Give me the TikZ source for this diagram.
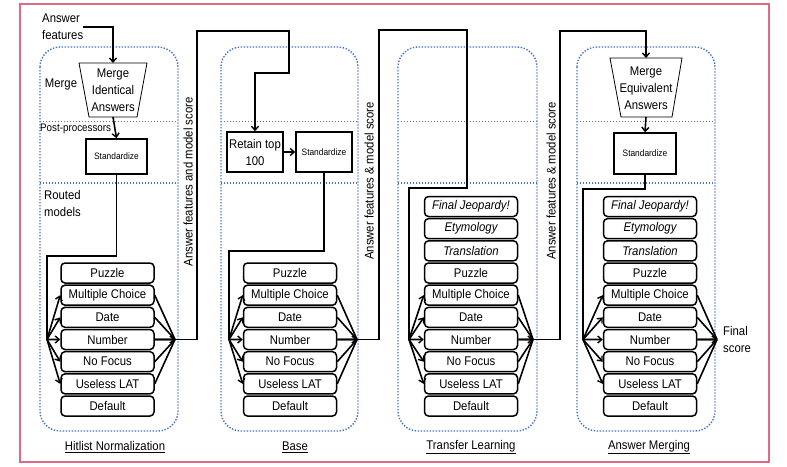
\documentclass[tikz,border=0pt]{standalone}
\usepackage{fontspec}
\setmainfont[FakeStretch=0.9]{Liberation Sans}
\usetikzlibrary{arrows.meta}
\definecolor{framepink}{RGB}{226,104,136}
\definecolor{dotblue}{RGB}{70,114,200}
\newcommand\fsm{\fontsize{12.6}{17}\selectfont}
\newcommand\fss{\fontsize{9.3}{10}\selectfont}
\newcommand\fspp{\fontsize{10.9}{12}\selectfont}
\tikzset{
 conn/.style={line width=1.6pt, line join=miter},
 arr/.style={conn, -{Straight Barb[length=4pt,width=7pt,line width=1.4pt]}},
 colbox/.style={draw=dotblue, line width=1.4pt, dash pattern=on 1.4pt off 1.6pt, rounded corners=20pt},
 divline/.style={draw=dotblue, line width=1.4pt, dash pattern=on 1.4pt off 1.6pt},
 model/.style={draw, line width=1.5pt, rounded corners=4pt, minimum width=93pt, minimum height=20pt, inner sep=0pt, font=\fsm},
 stdbox/.style={draw, line width=1.5pt, inner sep=0pt, font=\fss, align=center},
 lbl/.style={inner sep=0pt, font=\fsm, align=left},
 trap/.style={draw, line width=0.8pt},
}
\begin{document}
\begin{tikzpicture}[x=1pt,y=-1pt]
\useasboundingbox (0,0) rectangle (787,466);
% frame
\draw[framepink, line width=1.2pt] (20,4) rectangle (769,462);
% column boxes
\foreach \xa/\xb in {40/178,221/358,398/537,577/715}{
  \draw[colbox] (\xa,47) rectangle (\xb,431);
  \draw[divline] (\xa,121.5) -- (\xb,121.5);
  \draw[divline] (\xa,183) -- (\xb,183);
}
% bottom labels
\node[lbl] (t1) at (115,447) {\underline{Hitlist Normalization}};
\node[lbl] (t2) at (295,447) {\underline{Base}};
\node[lbl] (t3) at (471,447) {\underline{Transfer Learning}};
\node[lbl] (t4) at (649,447) {\underline{Answer Merging}};

% ---------- column 1 ----------
\node[lbl, anchor=west] (af) at (42,27) {Answer\\features};
\coordinate (tr1a) at (79,63); \coordinate (tr1b) at (147,63);
\coordinate (tr1c) at (137,117); \coordinate (tr1d) at (89,117);
\draw[trap] (tr1a) -- (tr1b) -- (tr1c) -- (tr1d) -- cycle;
\coordinate (tr1top) at (113,63); \coordinate (tr1bot) at (113,117);
\node[lbl, align=center] (m1) at (113,90) {Merge\\Identical\\Answers};
\node[lbl] (mergelbl) at (61,84) {Merge};
\node[inner sep=0pt, font=\fspp, anchor=west] (pp) at (40,129) {Post-processors};
\node[stdbox, minimum width=61pt, minimum height=35pt] (std1) at (116.5,156.5) {Standardize};
\node[lbl, anchor=north west] (rm) at (44,190) {Routed\\models};
\draw[arr] (af.east) -| (tr1top);
\draw[arr] (tr1bot) -- (std1.north);

\foreach \t [count=\i] in {Puzzle,Multiple Choice,Date,Number,No Focus,Useless LAT,Default}{
  \node[model] (c1m\i) at (107.5,{273+(\i-1)*22.17}) {\t};
  \node[model] (c2m\i) at (290,{273+(\i-1)*22.17}) {\t};
}
\foreach \t [count=\i] in {{\itshape Final Jeopardy!},{\itshape Etymology},{\itshape Translation},Puzzle,Multiple Choice,Date,Number,No Focus,Useless LAT,Default}{
  \node[model] (c3m\i) at (471,{206.5+(\i-1)*22.17}) {\t};
  \node[model] (c4m\i) at (650,{206.5+(\i-1)*22.17}) {\t};
}
\coordinate (fanL1) at (47,339.5);  \coordinate (fanR1) at (175,339.5);
\coordinate (fanL2) at (229,339.5); \coordinate (fanR2) at (357,339.5);
\coordinate (fanL3) at (409,339.5); \coordinate (fanR3) at (533,339.5);
\coordinate (fanL4) at (583,339.5); \coordinate (fanR4) at (717,339.5);

\foreach \i in {2,...,6}{
  \draw[arr] (fanL1) -- (c1m\i.west);
  \draw[conn] (c1m\i.east) -- (fanR1);
  \draw[arr] (fanL2) -- (c2m\i.west);
  \draw[conn] (c2m\i.east) -- (fanR2);
}
\foreach \i in {5,...,9}{
  \draw[arr] (fanL3) -- (c3m\i.west);
  \draw[conn] (c3m\i.east) -- (fanR3);
  \draw[arr] (fanL4) -- (c4m\i.west);
  \draw[conn] (c4m\i.east) -- (fanR4);
}
\draw[arr] (c1m4.east) -- (fanR1);
\draw[arr] (c2m4.east) -- (fanR2);
\draw[arr] (c3m7.east) -- (fanR3);
\draw[arr] (c4m7.east) -- (fanR4);

\draw[conn] (std1.south) -- (116.5,256) -- (47,256) -- (fanL1);

% ---------- column 2 ----------
\node[stdbox, font=\fsm, minimum width=56pt, minimum height=40pt] (ret) at (255,152) {Retain top\\100};
\node[stdbox, minimum width=56pt, minimum height=40pt] (std2) at (324,152) {Standardize};
\draw[arr] (ret.east) -- (std2.west);
\draw[arr] (fanR1) -- (197,339.5) -- (197,31) -- (289,31) -- (289,73) -- (255,73) -- (ret.north);
\draw[conn] (std2.south) -- (324,251) -- (229,251) -- (fanL2);
\node[lbl, rotate=90] (v1) at (188,182) {Answer features and model score};

% ---------- column 3 ----------
\draw[conn] (fanR2) -- (379,339.5) -- (379,30) -- (467,30) -- (467,188) -- (409,188) -- (fanL3);
\node[lbl, rotate=90] (v2) at (369,181) {Answer features \& model score};

% ---------- column 4 ----------
\coordinate (tr2a) at (610,58); \coordinate (tr2b) at (682,58);
\coordinate (tr2c) at (672,117); \coordinate (tr2d) at (621,117);
\draw[trap] (tr2a) -- (tr2b) -- (tr2c) -- (tr2d) -- cycle;
\coordinate (tr2top) at (646,58); \coordinate (tr2bot) at (646,117);
\node[lbl, align=center] (m2) at (646,88) {Merge\\Equivalent\\Answers};
\node[stdbox, minimum width=62pt, minimum height=41pt] (std4) at (645,153.5) {Standardize};
\draw[arr] (fanR3) -- (560,339.5) -- (560,31) -- (646,31) -- (tr2top);
\draw[arr] (tr2bot) -- (std4.north);
\draw[conn] (std4.south) -- (645,189) -- (583,189) -- (fanL4);
\node[lbl, rotate=90] (v3) at (551,181) {Answer features \& model score};
\node[lbl, anchor=west] (fs) at (723,339) {Final\\score};
\end{tikzpicture}
\end{document}
